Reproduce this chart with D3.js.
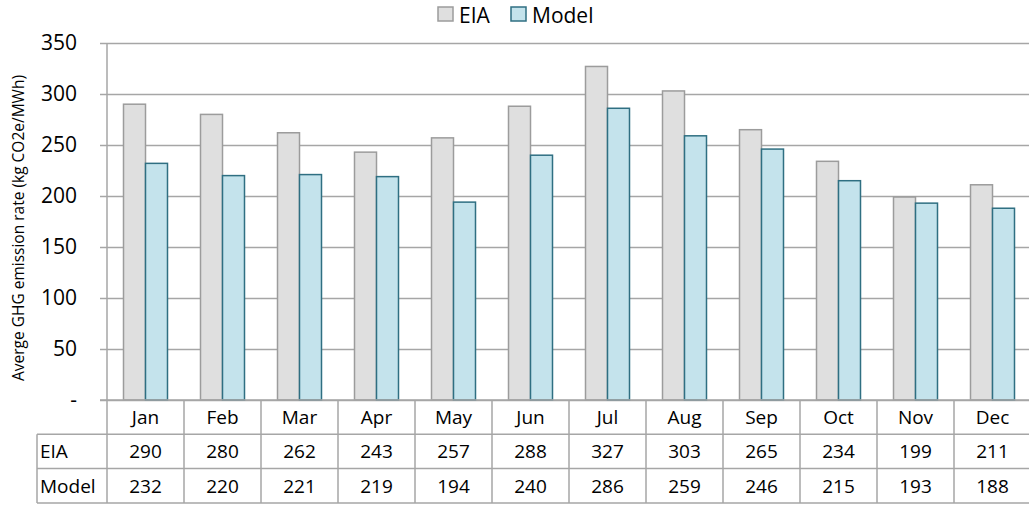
<!DOCTYPE html>
<html>
<head>
<meta charset="utf-8">
<script src="https://cdn.jsdelivr.net/npm/d3@7/dist/d3.min.js"></script>
<style>
  body { margin: 0; background: #fff; }
  text { font-family: "Open Sans", "Liberation Sans", sans-serif; fill: #000; }
</style>
</head>
<body>
<div id="chart"></div>
<script>
"use strict";
var w = 1029;
var h = 506;

// data
var months = ["Jan", "Feb", "Mar", "Apr", "May", "Jun", "Jul", "Aug", "Sep", "Oct", "Nov", "Dec"];
var seriesNames = ["EIA", "Model"];
var eiaValues = [290, 280, 262, 243, 257, 288, 327, 303, 265, 234, 199, 211];
var modelValues = [232, 220, 221, 219, 194, 240, 286, 259, 246, 215, 193, 188];
var yTicks = [0, 50, 100, 150, 200, 250, 300, 350];

var fills = { EIA: "#dfdfdf", Model: "#c4e3ec" };
var strokes = { EIA: "#9c9c9c", Model: "#2f6f82" };
var gridColor = "#a6a6a6";

var plotLeft = 107, plotRight = 1031, plotTop = 43, plotBottom = 400;

var svg = d3.select("#chart")
    .append("svg")
    .attr("width", w)
    .attr("height", h);

var x = d3.scaleBand()
    .domain(months)
    .range([plotLeft, plotRight]);

var x1 = d3.scaleBand()
    .domain(seriesNames)
    .range([0, x.bandwidth()])
    .paddingOuter(0.75)
    .paddingInner(0);

var y = d3.scaleLinear()
    .domain([0, 350])
    .range([plotBottom, plotTop]);

// gridlines + tick labels
var yAxis = d3.axisLeft(y)
    .tickValues(yTicks)
    .tickSize(-(plotRight - plotLeft))
    .tickPadding(30)
    .tickFormat(function(d){ return d === 0 ? "-" : d; });

var gy = svg.append("g")
    .attr("transform", "translate(" + plotLeft + ",0)")
    .call(yAxis);
gy.select(".domain").remove();
gy.selectAll(".tick line").attr("stroke", gridColor).attr("stroke-width", 1.5);
gy.selectAll(".tick text").style("font-size", "21px").attr("fill", "#000");

// small outward tick marks
gy.selectAll(".tick").append("line")
    .attr("x1", -7).attr("x2", 0)
    .attr("stroke", gridColor).attr("stroke-width", 1.5);

svg.append("line")
    .attr("x1", plotLeft).attr("x2", plotLeft)
    .attr("y1", plotTop).attr("y2", plotBottom)
    .attr("stroke", gridColor).attr("stroke-width", 1.5);

// bars
var rows = months.map(function(m, i){
    return { month: m, EIA: eiaValues[i], Model: modelValues[i] };
});

var groups = svg.selectAll(".month")
    .data(rows)
    .enter()
    .append("g")
    .attr("class", "month")
    .attr("transform", function(d){ return "translate(" + x(d.month) + ",0)"; });

groups.selectAll("rect")
    .data(function(d){ return seriesNames.map(function(s){ return { key: s, value: d[s] }; }); })
    .enter()
    .append("rect")
    .attr("x", function(d){ return x1(d.key); })
    .attr("width", x1.bandwidth())
    .attr("y", function(d){ return y(d.value); })
    .attr("height", function(d){ return plotBottom - y(d.value); })
    .attr("fill", function(d){ return fills[d.key]; })
    .attr("stroke", function(d){ return strokes[d.key]; })
    .attr("stroke-width", 1.5);

// data table under the chart
var rowH = 34.3;
var tableTop = plotBottom;
var labelLeft = 37;
var tbl = svg.append("g");

// header row with month names
months.forEach(function(m){
    tbl.append("text")
        .attr("x", x(m) + x.bandwidth() / 2)
        .attr("y", tableTop + rowH / 2 + 7)
        .attr("text-anchor", "middle")
        .style("font-size", "19px")
        .text(m);
});

var tableSeries = [eiaValues, modelValues];
tableSeries.forEach(function(vals, r){
    var ry = tableTop + rowH * (r + 1);
    tbl.append("text")
        .attr("x", labelLeft + 3)
        .attr("y", ry + rowH / 2 + 7)
        .style("font-size", "19px")
        .text(seriesNames[r]);
    vals.forEach(function(v, i){
        tbl.append("text")
            .attr("x", x(months[i]) + x.bandwidth() / 2)
            .attr("y", ry + rowH / 2 + 7)
            .attr("text-anchor", "middle")
            .style("font-size", "19px")
            .text(v);
    });
});

// table lines
var lineStyle = function(sel){ return sel.attr("stroke", gridColor).attr("stroke-width", 1.5); };
lineStyle(tbl.append("line").attr("x1", 100).attr("x2", plotRight).attr("y1", tableTop).attr("y2", tableTop));
[1, 2, 3].forEach(function(r){
    lineStyle(tbl.append("line")
        .attr("x1", labelLeft).attr("x2", plotRight)
        .attr("y1", tableTop + rowH * r).attr("y2", tableTop + rowH * r));
});
months.concat(["_end"]).forEach(function(m, i){
    var xx = i < months.length ? x(m) : plotRight;
    lineStyle(tbl.append("line")
        .attr("x1", xx).attr("x2", xx)
        .attr("y1", tableTop).attr("y2", tableTop + rowH * 3));
});
lineStyle(tbl.append("line")
    .attr("x1", labelLeft).attr("x2", labelLeft)
    .attr("y1", tableTop + rowH).attr("y2", tableTop + rowH * 3));

// y axis title
svg.append("text")
    .attr("transform", "translate(24," + 228 + ") rotate(-90)")
    .attr("text-anchor", "middle")
    .style("font-size", "15.5px")
    .text("Averge GHG emission rate (kg CO2e/MWh)");

// legend
var legendX = [438, 511];
var legend = svg.selectAll(".legend")
    .data(seriesNames)
    .enter()
    .append("g")
    .attr("class", "legend")
    .attr("transform", function(d, i){ return "translate(" + legendX[i] + ",7)"; });
legend.append("rect")
    .attr("width", 15).attr("height", 14)
    .attr("fill", function(d){ return fills[d]; })
    .attr("stroke", function(d){ return strokes[d]; })
    .attr("stroke-width", 1.5);
legend.append("text")
    .attr("x", 21).attr("y", 16)
    .style("font-size", "21px")
    .text(function(d){ return d; });
</script>
</body>
</html>
